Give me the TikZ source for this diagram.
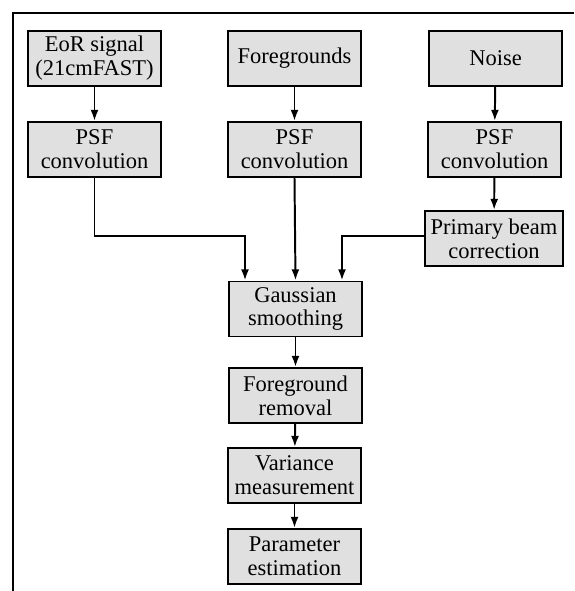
\documentclass[tikz,border=0pt]{standalone}
\usepackage{fontspec}
\setmainfont{Liberation Serif}
\usetikzlibrary{positioning, arrows.meta}
\tikzset{
    stage/.style = {draw, line width=1.4pt, fill=black!12, align=center,
        minimum width=3.325cm, minimum height=1.375cm, inner sep=1pt,
        font=\fontsize{16}{17}\selectfont},
    flow/.style = {draw, line width=1.4pt, -{Latex[length=0.28cm, width=0.2cm]}},
}

\begin{document}
\begin{tikzpicture}[x=0.025cm, y=-0.025cm]
    \useasboundingbox (0, 0) rectangle (574, 591);
    \draw [line width=1.8pt] (13, 591) -- (13, 13) -- (574, 13);

    \node[stage] (eor) at (94.5, 58.5) {EoR signal\\(21cmFAST)};
    \node[stage] (fg) at (294.5, 58.5) {Foregrounds};
    \node[stage] (noise) at (495.5, 58.5) {Noise};

    \node[stage] (psf eor) at (94.5, 149.5) {PSF\\convolution};
    \node[stage] (psf fg) at (294.5, 149.5) {PSF\\convolution};
    \node[stage] (psf noise) at (494.5, 149.5) {PSF\\convolution};

    \node[stage, minimum width=3.45cm] (beam) at (494, 238.5) {Primary beam\\correction};

    \node[stage] (smooth) at (295.5, 309) {Gaussian\\smoothing};
    \node[stage] (removal) at (295.5, 395.5) {Foreground\\removal};
    \node[stage] (variance) at (294.5, 475.5) {Variance\\measurement};
    \node[stage] (param) at (294.5, 556.5) {Parameter\\estimation};

    \coordinate (bend eor) at (245, 236);
    \coordinate (bend beam) at (342, 236);

    \draw[flow] (eor) -- (psf eor);
    \draw[flow] (fg) -- (psf fg);
    \draw[flow] (noise) -- (psf noise);
    \draw[flow] (psf noise) -- (beam);
    \draw[flow] (psf eor.south) |- (bend eor) -- (bend eor |- smooth.north);
    \draw[flow] (psf fg.south) -- (smooth.north);
    \draw[flow] (beam.west |- bend beam) -- (bend beam) -- (bend beam |- smooth.north);
    \draw[flow] (smooth) -- (removal);
    \draw[flow] (removal) -- (variance);
    \draw[flow] (variance) -- (param);
\end{tikzpicture}
\end{document}
